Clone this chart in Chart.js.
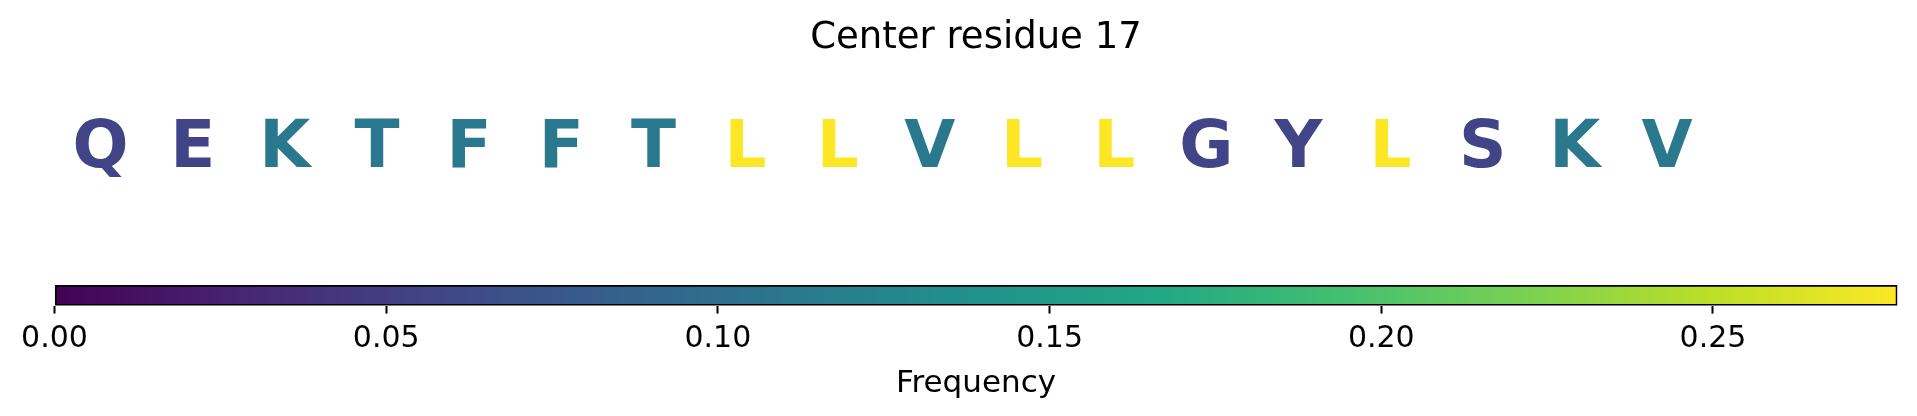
<!DOCTYPE html>
<html>
<head>
<meta charset="utf-8">
<script src="https://cdn.jsdelivr.net/npm/chart.js@4/dist/chart.umd.min.js"></script>
<style>
    html, body { margin: 0; padding: 0; background: #fff; }
    #letters-box { position: absolute; left: 0; top: 0; }
    #colorbar-box { position: absolute; left: 0; top: 218px; }
</style>
</head>
<body>
<div id="letters-box"><canvas id="letters" width="1917" height="218"></canvas></div>
<div id="colorbar-box"><canvas id="colorbar" width="1917" height="198"></canvas></div>
<script>
// 残基とその出現頻度
const residues = ['Q', 'E', 'K', 'T', 'F', 'F', 'T', 'L', 'L', 'V', 'L', 'L', 'G', 'Y', 'L', 'S', 'K', 'V'];
const frequencies = [0.0556, 0.0556, 0.1111, 0.1111, 0.1111, 0.1111, 0.1111, 0.2778, 0.2778, 0.1111,
                     0.2778, 0.2778, 0.0556, 0.0556, 0.2778, 0.0556, 0.1111, 0.1111];
const positions = residues.map((_, i) => i + 0.5);

// カラーバーの範囲と目盛
const colorbarMin = 0;
const colorbarMax = 0.2778;
const colorbarTicks = [0, 0.05, 0.10, 0.15, 0.20, 0.25];

const titleText = 'Center residue 17';
const axisTitle = 'Frequency';

// viridis (matplotlib) のサンプル
const viridisStops = ['#440154', '#482475', '#414487', '#355f8d', '#2a788e', '#21918c',
                      '#22a884', '#44bf70', '#7ad151', '#bddf26', '#fde725'];

function hexToRgb(hex) {
    const n = parseInt(hex.slice(1), 16);
    return [(n >> 16) & 255, (n >> 8) & 255, n & 255];
}

function viridis(t) {
    t = Math.min(1, Math.max(0, t));
    const pos = t * (viridisStops.length - 1);
    const i = Math.min(Math.floor(pos), viridisStops.length - 2);
    const f = pos - i;
    const a = hexToRgb(viridisStops[i]);
    const b = hexToRgb(viridisStops[i + 1]);
    const c = a.map((v, k) => Math.round(v + (b[k] - v) * f));
    return `rgb(${c[0]}, ${c[1]}, ${c[2]})`;
}

Chart.defaults.font.family = "'DejaVu Sans', sans-serif";
Chart.defaults.color = '#000';

const LETTER_SIZE = 66;

// 各点の位置に残基の文字を描く
const letterPlugin = {
    id: 'residueLetters',
    afterDatasetsDraw(chart) {
        const meta = chart.getDatasetMeta(0);
        const ctx = chart.ctx;
        ctx.save();
        ctx.font = `bold ${LETTER_SIZE}px 'DejaVu Sans'`;
        ctx.textAlign = 'center';
        ctx.textBaseline = 'alphabetic';
        meta.data.forEach((pt, i) => {
            ctx.fillStyle = viridis((frequencies[i] - colorbarMin) / (colorbarMax - colorbarMin));
            ctx.fillText(residues[i], pt.x, pt.y + LETTER_SIZE * 0.729 / 2);
        });
        ctx.restore();
    }
};

new Chart(document.getElementById('letters'), {
    type: 'scatter',
    data: {
        datasets: [{
            data: positions.map(x => ({ x: x, y: 0.5 })),
            pointRadius: 0,
            pointHoverRadius: 0
        }]
    },
    options: {
        responsive: false,
        animation: false,
        events: [],
        layout: { padding: { left: 54.5, right: 19.6, top: 0, bottom: 0 } },
        scales: {
            x: { type: 'linear', min: 0, max: 20, display: false },
            y: { type: 'linear', min: 0, max: 1, display: false }
        },
        plugins: {
            legend: { display: false },
            tooltip: { enabled: false },
            title: {
                display: true,
                text: titleText,
                font: { size: 37, weight: 'normal' },
                padding: { top: 16, bottom: 6.8 }
            }
        }
    },
    plugins: [letterPlugin]
});

new Chart(document.getElementById('colorbar'), {
    type: 'bar',
    data: {
        labels: [axisTitle],
        datasets: [{
            data: [[colorbarMin, colorbarMax]],
            backgroundColor(context) {
                const area = context.chart.chartArea;
                if (!area) return viridisStops[0];
                const g = context.chart.ctx.createLinearGradient(area.left, 0, area.right, 0);
                viridisStops.forEach((c, i) => g.addColorStop(i / (viridisStops.length - 1), c));
                return g;
            },
            borderColor: '#000',
            borderWidth: 2,
            borderSkipped: false,
            barPercentage: 1,
            categoryPercentage: 1
        }]
    },
    options: {
        indexAxis: 'y',
        responsive: false,
        animation: false,
        events: [],
        layout: { padding: { left: 54.5, right: 19.6, top: 67, bottom: 9.2 } },
        scales: {
            x: {
                type: 'linear',
                min: colorbarMin,
                max: colorbarMax,
                afterBuildTicks(scale) {
                    scale.ticks = colorbarTicks.map(v => ({ value: v }));
                },
                ticks: {
                    font: { size: 30 },
                    padding: 8,
                    callback: v => Number(v).toFixed(2)
                },
                grid: {
                    display: true,
                    drawOnChartArea: false,
                    drawTicks: true,
                    tickLength: 8,
                    tickWidth: 2,
                    tickColor: '#000'
                },
                border: { display: false }
            },
            y: { display: false }
        },
        plugins: {
            legend: { display: false },
            tooltip: { enabled: false },
            // カラーバーの軸ラベル（目盛の下）
            title: {
                display: true,
                position: 'bottom',
                text: axisTitle,
                font: { size: 31, weight: 'normal' },
                padding: { top: 0, bottom: 4 }
            }
        }
    }
});
</script>
</body>
</html>
